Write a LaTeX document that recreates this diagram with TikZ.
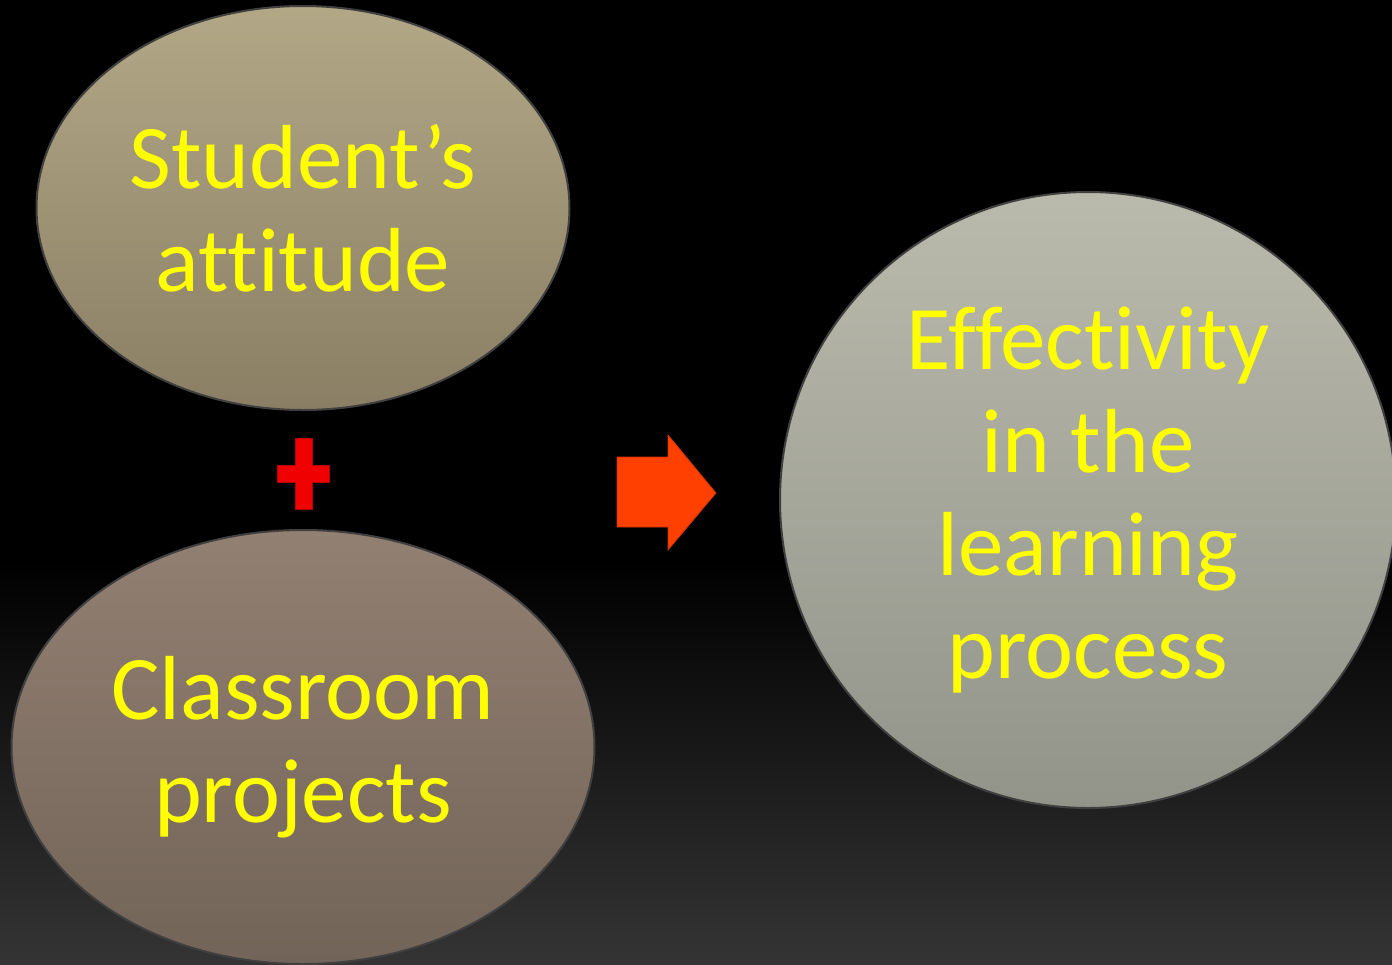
\documentclass[tikz,border=0pt]{standalone}
\usepackage{fontspec}
\setmainfont[Ligatures={NoCommon}]{Carlito}
\usetikzlibrary{shapes.geometric}
\definecolor{txtyellow}{RGB}{255,255,0}
\definecolor{ellAtop}{RGB}{178,168,134}
\definecolor{ellAbot}{RGB}{138,126,100}
\definecolor{ellBtop}{RGB}{146,128,114}
\definecolor{ellBbot}{RGB}{114,100,88}
\definecolor{cirtop}{RGB}{186,186,172}
\definecolor{cirbot}{RGB}{146,148,138}
\definecolor{plusred}{RGB}{240,0,0}
\definecolor{arrorange}{RGB}{255,64,0}
\definecolor{bgbot}{RGB}{52,52,52}
\tikzset{
  bubble/.style={ellipse, draw=black!75, line width=2pt, text=txtyellow, align=center,
     font=\fontsize{91}{103}\selectfont, inner sep=0pt},
}
\begin{document}
\begin{tikzpicture}[x=1pt,y=-1pt]
\useasboundingbox (0,0) rectangle (1392,964);
\fill[black] (0,0) rectangle (1392,964);
\shade[top color=black, bottom color=bgbot] (0,560) rectangle (1392,964);
\node[bubble, minimum width=533pt, minimum height=404pt, top color=ellAtop, bottom color=ellAbot] (att) at (303,208) {Student’s\\attitude};
\node[bubble, minimum width=583pt, minimum height=434pt, top color=ellBtop, bottom color=ellBbot] (proj) at (303,747) {Classroom\\projects};
\node[bubble, minimum width=616pt, minimum height=616pt, top color=cirtop, bottom color=cirbot] (eff) at (1088,500) {Effectivity\\in the\\learning\\process};
% plus sign
\fill[plusred, draw=red!70!black, line width=0.8pt]
  (295,438) -- (312,438) -- (312,465) -- (329,465) -- (329,482) -- (312,482) -- (312,509)
  -- (295,509) -- (295,482) -- (277,482) -- (277,465) -- (295,465) -- cycle;
% arrow
\fill[arrorange, draw=arrorange!80!black, line width=0.8pt]
  (617,457) -- (668,457) -- (668,435) -- (716,493) -- (668,550) -- (668,527) -- (617,527) -- cycle;
\end{tikzpicture}
\end{document}
